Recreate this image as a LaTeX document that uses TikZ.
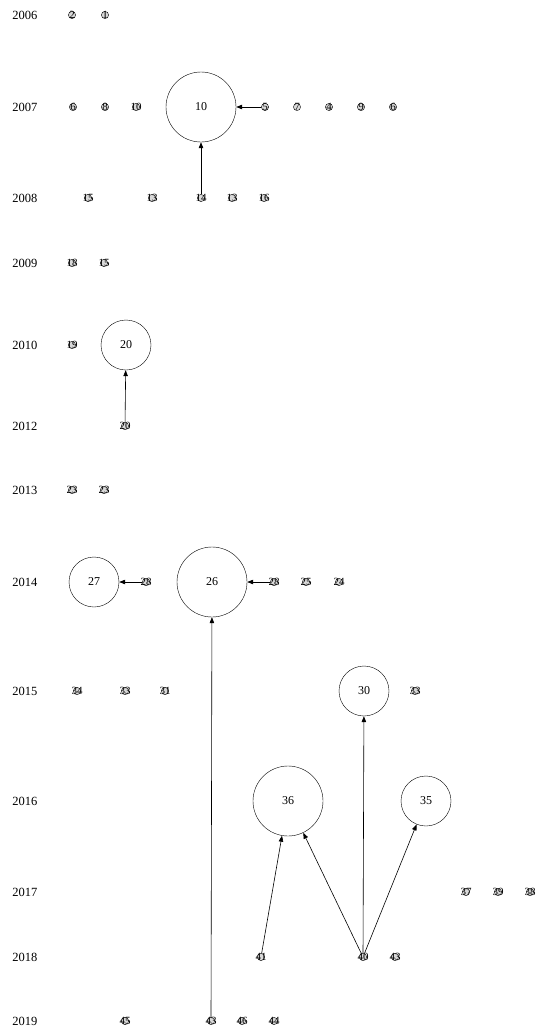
\documentclass[tikz,border=0pt]{standalone}
\usepackage{fontspec}
\setmainfont{Liberation Serif}
\usetikzlibrary{arrows.meta}
\tikzset{
  yr/.style={font=\fontsize{12.5}{12.5}\selectfont},
  pt/.style={circle,draw,thin,fill=gray!30,inner sep=0pt,minimum size=7pt,font=\fontsize{11}{11}\selectfont},
  bigc/.style={circle,draw,inner sep=0pt,minimum size=70pt,font=\fontsize{12}{12}\selectfont},
  midc/.style={circle,draw,inner sep=0pt,minimum size=50pt,font=\fontsize{12}{12}\selectfont},
  cite/.style={-{Triangle[length=6pt,width=4.5pt]},semithick}
}
\newcommand{\lb}[1]{\makebox[0pt]{#1}}
\begin{document}
\begin{tikzpicture}[x=1pt,y=-1pt]
				\useasboundingbox (0,0) rectangle (543,1036);
				% years
				\node[yr] (y06) at (25,15) {2006};
				\node[yr] (y07) at (25,107) {2007};
				\node[yr] (y08) at (25,198) {2008};
				\node[yr] (y09) at (25,263) {2009};
				\node[yr] (y10) at (25,345) {2010};
				\node[yr] (y12) at (25,426) {2012};
				\node[yr] (y13) at (25,490) {2013};
				\node[yr] (y14) at (25,582) {2014};
				\node[yr] (y15) at (25,691) {2015};
				\node[yr] (y16) at (25,801) {2016};
				\node[yr] (y17) at (25,892) {2017};
				\node[yr] (y18) at (25,957) {2018};
				\node[yr] (y19) at (25,1021) {2019};
				% 2006
				\node[pt] (a1) at (72,15) {\lb{2}};
				\node[pt] (a2) at (105,15) {\lb{1}};
				% 2007
				\node[pt] (b1) at (73,107) {\lb{6}};
				\node[pt] (b2) at (105,107) {\lb{8}};
				\node[pt] (b3) at (136,107) {\lb{10}};
				\node[bigc] (b10) at (201,107) {10};
				\node[pt] (b4) at (265,107) {\lb{5}};
				\node[pt] (b5) at (297,107) {\lb{7}};
				\node[pt] (b6) at (329,107) {\lb{4}};
				\node[pt] (b7) at (361,107) {\lb{9}};
				\node[pt] (b8) at (393,107) {\lb{6}};
				% 2008
				\node[pt] (c1) at (88,198) {\lb{15}};
				\node[pt] (c2) at (152,198) {\lb{13}};
				\node[pt] (c3) at (201,198) {\lb{14}};
				\node[pt] (c4) at (232,198) {\lb{13}};
				\node[pt] (c5) at (264,198) {\lb{16}};
				% 2009
				\node[pt] (d1) at (72,263) {\lb{18}};
				\node[pt] (d2) at (104,263) {\lb{15}};
				% 2010
				\node[pt] (e1) at (72,345) {\lb{19}};
				\node[midc] (e20) at (126,345) {20};
				% 2012
				\node[pt] (f1) at (125,426) {\lb{20}};
				% 2013
				\node[pt] (g1) at (72,490) {\lb{23}};
				\node[pt] (g2) at (104,490) {\lb{23}};
				% 2014
				\node[midc] (h27) at (94,582) {27};
				\node[pt] (h1) at (146,582) {\lb{28}};
				\node[bigc] (h26) at (212,582) {26};
				\node[pt] (h2) at (274,582) {\lb{28}};
				\node[pt] (h3) at (306,582) {\lb{25}};
				\node[pt] (h4) at (339,582) {\lb{24}};
				% 2015
				\node[pt] (i1) at (77,691) {\lb{34}};
				\node[pt] (i2) at (125,691) {\lb{33}};
				\node[pt] (i3) at (165,691) {\lb{31}};
				\node[midc] (i30) at (364,691) {30};
				\node[pt] (i4) at (415,691) {\lb{33}};
				% 2016
				\node[bigc] (j36) at (288,801) {36};
				\node[midc] (j35) at (426,801) {35};
				% 2017
				\node[pt] (k1) at (466,892) {\lb{37}};
				\node[pt] (k2) at (498,892) {\lb{39}};
				\node[pt] (k3) at (530,892) {\lb{38}};
				% 2018
				\node[pt] (l1) at (261,957) {\lb{41}};
				\node[pt] (l2) at (363,957) {\lb{40}};
				\node[pt] (l3) at (395,957) {\lb{43}};
				% 2019
				\node[pt] (m1) at (125,1021) {\lb{45}};
				\node[pt] (m2) at (211,1021) {\lb{43}};
				\node[pt] (m3) at (242,1021) {\lb{46}};
				\node[pt] (m4) at (274,1021) {\lb{44}};
				% citations
				\draw[cite] (b4) -- (b10);
				\draw[cite] (c3) -- (b10);
				\draw[cite] (f1) -- (e20);
				\draw[cite] (h1) -- (h27);
				\draw[cite] (h2) -- (h26);
				\draw[cite] (m2) -- (h26);
				\draw[cite] (l1) -- (j36);
				\draw[cite] (l2) -- (j36);
				\draw[cite] (l2) -- (i30);
				\draw[cite] (l2) -- (j35);
			\end{tikzpicture}
\end{document}
